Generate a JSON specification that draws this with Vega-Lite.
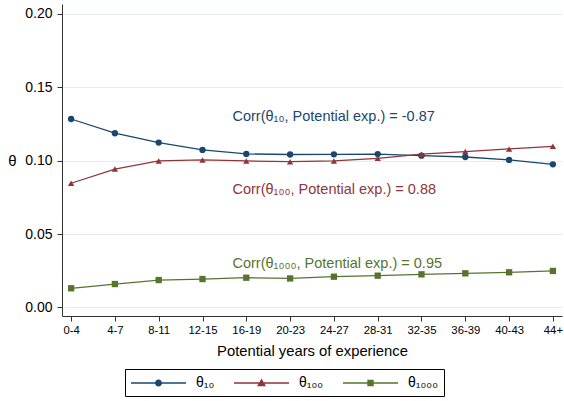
{
  "$schema": "https://vega.github.io/schema/vega-lite/v6.json",
  "width": 500,
  "height": 312,
  "autosize": {"type": "none"},
  "padding": {"left": 62, "top": 4, "right": 2, "bottom": 85},
  "background": "white",
  "config": {
    "font": "Liberation Sans",
    "view": {"stroke": null},
    "axis": {"domainColor": "#333333", "tickColor": "#333333", "labelColor": "#000000", "titleColor": "#000000", "titleFontWeight": "normal", "tickSize": 5}
  },
  "datasets": {
    "theta": [
      {"exp": "0-4", "series": "θ₁₀", "theta": 0.1284},
      {"exp": "4-7", "series": "θ₁₀", "theta": 0.1187},
      {"exp": "8-11", "series": "θ₁₀", "theta": 0.1123},
      {"exp": "12-15", "series": "θ₁₀", "theta": 0.1073},
      {"exp": "16-19", "series": "θ₁₀", "theta": 0.1046},
      {"exp": "20-23", "series": "θ₁₀", "theta": 0.1042},
      {"exp": "24-27", "series": "θ₁₀", "theta": 0.1043},
      {"exp": "28-31", "series": "θ₁₀", "theta": 0.1045},
      {"exp": "32-35", "series": "θ₁₀", "theta": 0.1034},
      {"exp": "36-39", "series": "θ₁₀", "theta": 0.1025},
      {"exp": "40-43", "series": "θ₁₀", "theta": 0.1005},
      {"exp": "44+", "series": "θ₁₀", "theta": 0.0975},
      {"exp": "0-4", "series": "θ₁₀₀", "theta": 0.0846},
      {"exp": "4-7", "series": "θ₁₀₀", "theta": 0.0943},
      {"exp": "8-11", "series": "θ₁₀₀", "theta": 0.0998},
      {"exp": "12-15", "series": "θ₁₀₀", "theta": 0.1005},
      {"exp": "16-19", "series": "θ₁₀₀", "theta": 0.0998},
      {"exp": "20-23", "series": "θ₁₀₀", "theta": 0.0993},
      {"exp": "24-27", "series": "θ₁₀₀", "theta": 0.0998},
      {"exp": "28-31", "series": "θ₁₀₀", "theta": 0.1016},
      {"exp": "32-35", "series": "θ₁₀₀", "theta": 0.1044},
      {"exp": "36-39", "series": "θ₁₀₀", "theta": 0.1062},
      {"exp": "40-43", "series": "θ₁₀₀", "theta": 0.108},
      {"exp": "44+", "series": "θ₁₀₀", "theta": 0.1098},
      {"exp": "0-4", "series": "θ₁₀₀₀", "theta": 0.013},
      {"exp": "4-7", "series": "θ₁₀₀₀", "theta": 0.0159},
      {"exp": "8-11", "series": "θ₁₀₀₀", "theta": 0.0186},
      {"exp": "12-15", "series": "θ₁₀₀₀", "theta": 0.0193},
      {"exp": "16-19", "series": "θ₁₀₀₀", "theta": 0.0202},
      {"exp": "20-23", "series": "θ₁₀₀₀", "theta": 0.0197},
      {"exp": "24-27", "series": "θ₁₀₀₀", "theta": 0.0209},
      {"exp": "28-31", "series": "θ₁₀₀₀", "theta": 0.0216},
      {"exp": "32-35", "series": "θ₁₀₀₀", "theta": 0.0225},
      {"exp": "36-39", "series": "θ₁₀₀₀", "theta": 0.0232},
      {"exp": "40-43", "series": "θ₁₀₀₀", "theta": 0.0239},
      {"exp": "44+", "series": "θ₁₀₀₀", "theta": 0.0248}
    ],
    "notes": [
      {"exp": "12-15", "series": "θ₁₀", "theta": 0.1298, "label": "Corr(θ₁₀, Potential exp.) = -0.87"},
      {"exp": "12-15", "series": "θ₁₀₀", "theta": 0.0800, "label": "Corr(θ₁₀₀, Potential exp.) = 0.88"},
      {"exp": "12-15", "series": "θ₁₀₀₀", "theta": 0.0295, "label": "Corr(θ₁₀₀₀, Potential exp.) = 0.95"}
    ]
  },
  "encoding": {
    "x": {
      "field": "exp", "type": "ordinal",
      "scale": {"type": "point", "domain": ["0-4","4-7","8-11","12-15","16-19","20-23","24-27","28-31","32-35","36-39","40-43","44+"], "padding": 0.2078},
      "axis": {"title": "Potential years of experience", "titleFontSize": 14.8, "titlePadding": 8, "labelFontSize": 11.3, "labelAngle": 0, "labelPadding": 3, "grid": false}
    },
    "y": {
      "field": "theta", "type": "quantitative",
      "scale": {"domain": [-0.0059, 0.2068], "nice": false, "zero": false},
      "axis": {"title": "θ", "titleFontSize": 15, "titleAngle": 0, "titleX": -50, "titleY": 156, "titleAlign": "center", "titleBaseline": "middle", "values": [0, 0.05, 0.1, 0.15, 0.2], "format": ".2f", "labelFontSize": 14, "labelPadding": 5, "grid": true, "gridColor": "#e6eef0", "gridWidth": 1}
    }
  },
  "layer": [
    {
      "data": {"name": "theta"},
      "mark": {"type": "line", "strokeWidth": 1.3},
      "encoding": {
        "color": {"field": "series", "type": "nominal", "scale": {"domain": ["θ₁₀","θ₁₀₀","θ₁₀₀₀"], "range": ["#1a476f","#90353b","#55752f"]}, "legend": null}
      }
    },
    {
      "data": {"name": "theta"},
      "mark": {"type": "point", "filled": true, "size": 40, "opacity": 1},
      "encoding": {
        "color": {"field": "series", "type": "nominal", "scale": {"domain": ["θ₁₀","θ₁₀₀","θ₁₀₀₀"], "range": ["#1a476f","#90353b","#55752f"]}, "legend": null},
        "shape": {"field": "series", "type": "nominal", "scale": {"domain": ["θ₁₀","θ₁₀₀","θ₁₀₀₀"], "range": ["circle","triangle-up","square"]}, "legend": null}
      }
    },
    {
      "data": {"name": "theta"},
      "mark": {"type": "point", "filled": true, "size": 10, "opacity": 0},
      "encoding": {
        "color": {"field": "series", "type": "nominal", "scale": {"domain": ["θ₁₀","θ₁₀₀","θ₁₀₀₀"], "range": ["#1a476f","#90353b","#55752f"]},
          "legend": {"orient": "none", "legendX": 63, "legendY": 365, "direction": "horizontal", "title": null, "symbolSize": 256, "symbolOpacity": 1, "symbolStrokeWidth": 0, "strokeColor": "#000000", "padding": 6, "labelFontSize": 14, "labelOffset": 49, "columnPadding": 19}},
        "shape": {"field": "series", "type": "nominal", "scale": {"domain": ["θ₁₀","θ₁₀₀","θ₁₀₀₀"], "range": [
          "M-1,-0.09H5.88V0.09H-1Z M2.0,0A0.44,0.44 0 1,1 2.88,0A0.44,0.44 0 1,1 2.0,0Z",
          "M-1,-0.09H5.88V0.09H-1Z M2.44,-0.56L3.0,0.42L1.88,0.42Z",
          "M-1,-0.09H5.88V0.09H-1Z M2.04,-0.4H2.84V0.4H2.04Z"
        ]},
          "legend": {"orient": "none", "legendX": 63, "legendY": 365, "direction": "horizontal", "title": null, "symbolSize": 256, "symbolOpacity": 1, "symbolStrokeWidth": 0, "strokeColor": "#000000", "padding": 6, "labelFontSize": 14, "labelOffset": 49, "columnPadding": 19}}
      }
    },
    {
      "data": {"name": "notes"},
      "mark": {"type": "text", "align": "left", "baseline": "middle", "dx": 30, "fontSize": 14.5},
      "encoding": {
        "text": {"field": "label"},
        "color": {"field": "series", "type": "nominal", "scale": {"domain": ["θ₁₀","θ₁₀₀","θ₁₀₀₀"], "range": ["#1a476f","#90353b","#55752f"]}, "legend": null}
      }
    }
  ],
  "resolve": {"scale": {"color": "independent", "shape": "independent"}}
}
